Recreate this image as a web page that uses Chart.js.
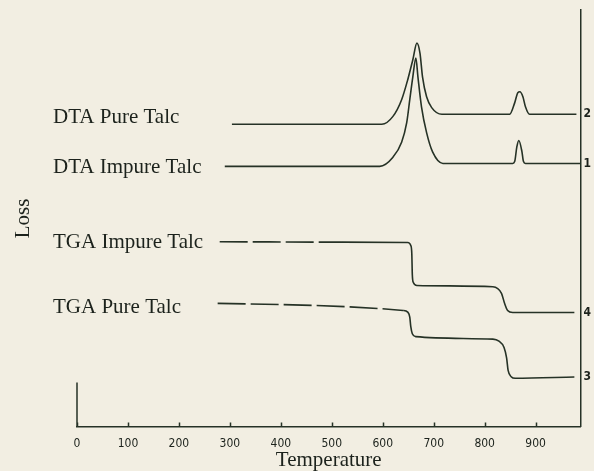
<!DOCTYPE html>
<html><head><meta charset="utf-8">
<script src="https://cdn.jsdelivr.net/npm/chart.js@4"></script>
<style>html,body{margin:0;padding:0;background:#f2eee2;} canvas{display:block}</style>
</head><body>
<canvas id="c" width="594" height="471"></canvas>
<script>
// ---- data (y is relative "Loss" signal, 0..100) ----
const seriesNames   = ['DTA Pure Talc', 'DTA Impure Talc', 'TGA Impure Talc', 'TGA Pure Talc'];
const curveNumbers  = ['2', '1', '4', '3'];
const xTicks        = [0, 100, 200, 300, 400, 500, 600, 700, 800, 900];

const dtaPureT   = [304, 598, 620, 637, 649, 659, 667, 673, 678, 686, 696, 716, 849, 859, 865, 869, 875, 880, 888, 980];
const dtaPureV   = [72.6, 72.6, 74.5, 78.5, 83.3, 88.1, 92.1, 89.7, 84.0, 79.2, 76.6, 75.0, 75.0, 77.8, 80.2, 80.4, 79.2, 76.8, 75.0, 75.0];

const dtaImpureT = [290, 594, 620, 637, 647, 653, 659, 665, 669, 676, 686, 698, 718, 855, 859, 863, 867, 873, 876, 880, 988];
const dtaImpureV = [62.5, 62.5, 64.7, 68.3, 73.0, 78.5, 84.0, 88.5, 84.0, 76.8, 70.6, 65.9, 63.2, 63.2, 63.7, 67.1, 68.7, 66.1, 63.7, 63.2, 63.2];

const tgaImpureT = [280, 520, 649, 655, 657, 658, 660, 667, 816, 833, 839, 845, 855, 976];
const tgaImpureV = [44.4, 44.3, 44.2, 43.5, 41.5, 36.5, 34.6, 33.9, 33.6, 32.0, 29.6, 27.9, 27.4, 27.4];

const tgaPureT   = [276, 640, 649, 653, 655, 658, 665, 816, 828, 838, 843, 846, 852, 860, 976];
const tgaPureV   = [29.6, 27.9, 27.5, 26.3, 24.0, 22.3, 21.6, 21.0, 20.5, 19.0, 16.5, 13.5, 12.0, 11.6, 11.9];

const dashEnds   = [null, null, 520, 640];

// ---- build ----
const seriesT = [dtaPureT, dtaImpureT, tgaImpureT, tgaPureT];
const seriesV = [dtaPureV, dtaImpureV, tgaImpureV, tgaPureV];
const INK = '#263226';
const TEXT = '#1c221c';

const datasets = seriesNames.map((name, i) => ({
  label: name,
  data: seriesT[i].map((t, k) => ({x: t, y: seriesV[i][k]})),
  borderColor: INK,
  borderWidth: 1.6,
  pointRadius: 0,
  fill: false,
  cubicInterpolationMode: 'monotone',
  segment: {
    borderDash: ctx => (dashEnds[i] !== null && ctx.p1.parsed.x <= dashEnds[i]) ? [28, 5] : undefined
  }
}));

const endValues = seriesV.map(v => v[v.length - 1]);
const labelOffsets = [-7, 1, 1, 4];

const decor = {
  id: 'decor',
  afterDraw(chart) {
    const {ctx, chartArea, scales} = chart;
    const xs = scales.x, ys = scales.y;
    ctx.save();
    ctx.fillStyle = TEXT;
    ctx.font = '21px "Liberation Serif", "Times New Roman", serif';
    ctx.textAlign = 'left';
    ctx.textBaseline = 'middle';
    seriesNames.forEach((n, i) => {
      ctx.fillText(n, chartArea.left - 24, ys.getPixelForValue(seriesV[i][0]) + labelOffsets[i]);
    });
    ctx.strokeStyle = INK;
    ctx.lineWidth = 1.5;
    ctx.beginPath();
    ctx.moveTo(chartArea.left, chartArea.bottom);
    ctx.lineTo(chartArea.left, chartArea.bottom - 44);
    xTicks.forEach(v => {
      const px = Math.round(xs.getPixelForValue(v)) + 0.5;
      ctx.moveTo(px, chartArea.bottom);
      ctx.lineTo(px, chartArea.bottom - 4);
    });
    ctx.stroke();
    ctx.restore();
  }
};

new Chart(document.getElementById('c'), {
  type: 'line',
  data: {datasets},
  options: {
    responsive: false,
    devicePixelRatio: 1,
    animation: false,
    layout: {padding: {top: 10, right: 0, left: 0, bottom: 0}},
    plugins: {legend: {display: false}, tooltip: {enabled: false}},
    scales: {
      x: {
        type: 'linear', min: 0, max: 988,
        afterBuildTicks: s => { s.ticks = xTicks.map(v => ({value: v})); },
        grid: {display: false, drawTicks: false},
        border: {display: true, color: INK, width: 1.5},
        ticks: {
          autoSkip: false, maxRotation: 0, padding: 10, color: TEXT,
          font: {family: '"Liberation Sans Narrow", "DejaVu Sans Condensed", sans-serif', size: 12}
        },
        title: {
          display: true, text: 'Temperature', color: TEXT,
          font: {family: '"Liberation Serif", "Times New Roman", serif', size: 21, lineHeight: 1},
          padding: {top: -11, bottom: 0}
        }
      },
      y: {
        type: 'linear', min: 0, max: 100, position: 'left',
        grid: {display: false, drawTicks: false},
        border: {display: false},
        ticks: {display: false},
        title: {
          display: true, text: 'Loss', color: TEXT,
          font: {family: '"Liberation Serif", "Times New Roman", serif', size: 21, lineHeight: 1},
          padding: {top: 13, bottom: 43}
        }
      },
      y2: {
        type: 'linear', min: 0, max: 100, position: 'right',
        afterBuildTicks: s => { s.ticks = endValues.map(v => ({value: v})); },
        grid: {display: false, drawTicks: false},
        border: {display: true, color: INK, width: 1.5},
        ticks: {
          autoSkip: false, padding: 3, color: TEXT,
          font: {family: '"Liberation Sans Narrow", "DejaVu Sans Condensed", sans-serif', size: 12, weight: 'bold'},
          callback: (value) => curveNumbers[endValues.indexOf(value)]
        }
      }
    }
  },
  plugins: [decor]
});
</script>
</body></html>
